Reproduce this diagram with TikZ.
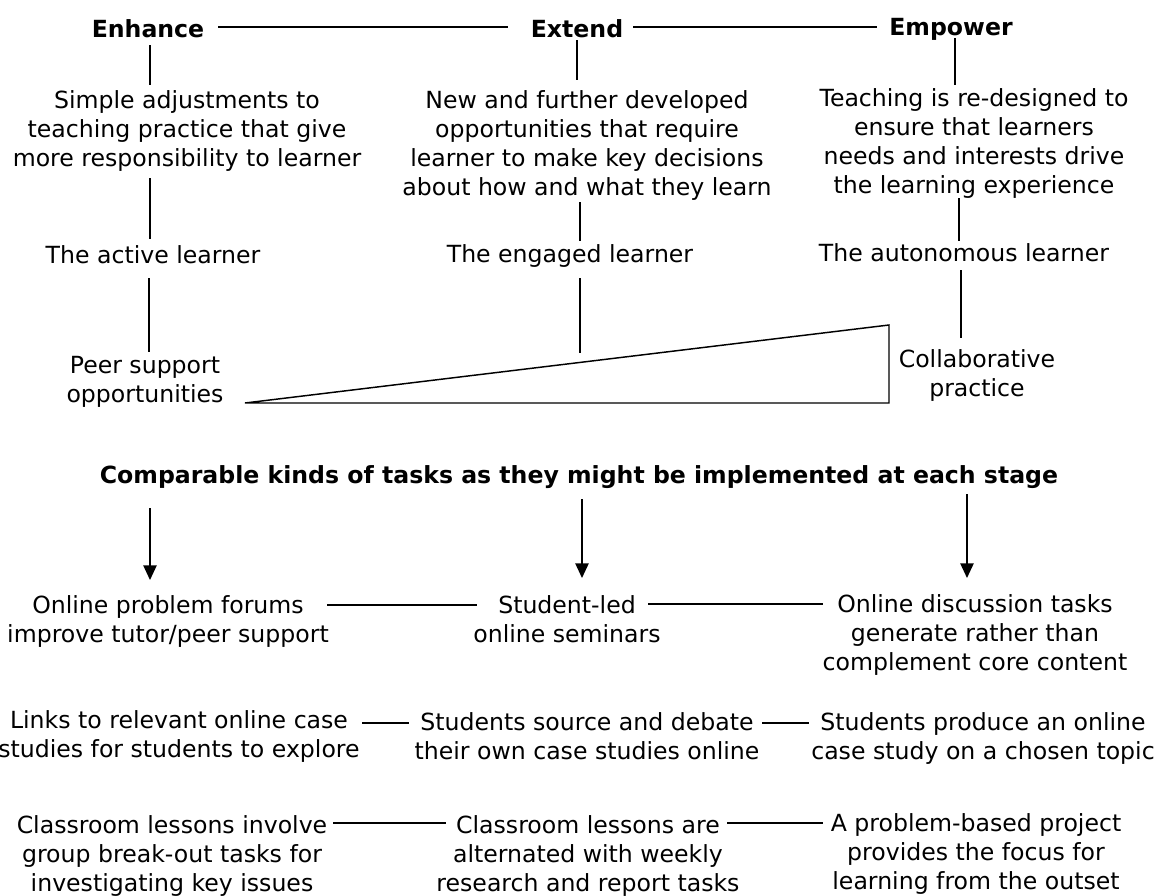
\documentclass[tikz,border=0pt]{standalone}
\usepackage{fontspec}
\setmainfont{DejaVu Sans}
\usetikzlibrary{arrows.meta,calc}
\newcommand\mlines[1]{\begin{tabular}[t]{@{}c@{}}#1\end{tabular}}
\begin{document}
\begin{tikzpicture}[x=0.75pt,y=-0.75pt,
  every node/.style={inner sep=0pt, anchor=base, font=\fontsize{17.7}{21.75}\selectfont},
  head/.style={font=\fontsize{17.7}{21.75}\selectfont\bfseries},
  conn/.style={line width=1.1pt, black},
  arr/.style={conn, -{Triangle[width=10pt,length=11pt]}}]
\useasboundingbox (0,0) rectangle (1165,896);
\fill[white] (0,0) rectangle (1165,896);
% top row
\node[head] (enh) at (148,37) {Enhance};
\node[head] (ext) at (577,37) {Extend};
\node[head] (emp) at (951,35) {Empower};
% descriptions
\node (simple) at (187,108) {\mlines{Simple adjustments to\\teaching practice that give\\more responsibility to learner}};
\node (new) at (587,108) {\mlines{New and further developed\\opportunities that require\\learner to make key decisions\\about how and what they learn}};
\node (teach) at (974,106) {\mlines{Teaching is re-designed to\\ensure that learners\\needs and interests drive\\the learning experience}};
% learners
\node (active) at (153,263) {The active learner};
\node (engaged) at (570,262) {The engaged learner};
\node (auto) at (964,261) {The autonomous learner};
% ends of wedge
\node (peer) at (145,373) {\mlines{Peer support\\opportunities}};
\node (collab) at (977,367) {\mlines{Collaborative\\practice}};
% title
\node[head] (title) at (579,483) {Comparable kinds of tasks as they might be implemented at each stage};
% row 1
\node (forums) at (168,613) {\mlines{Online problem forums\\improve tutor/peer support}};
\node (seminar) at (567,613) {\mlines{Student-led\\online seminars}};
\node (disc) at (975,612) {\mlines{Online discussion tasks\\generate rather than\\complement core content}};
% row 2
\node (links) at (179,728) {\mlines{Links to relevant online case\\studies for students to explore}};
\node (source) at (587,730) {\mlines{Students source and debate\\their own case studies online}};
\node (produce) at (983,730) {\mlines{Students produce an online\\case study on a chosen topic}};
% row 3
\node (class1) at (172,833) {\mlines{Classroom lessons involve\\group break-out tasks for\\investigating key issues}};
\node (class2) at (588,833) {\mlines{Classroom lessons are\\alternated with weekly\\research and report tasks}};
\node (problem) at (976,831) {\mlines{A problem-based project\\provides the focus for\\learning from the outset}};
% wedge
\coordinate (tl) at (245,403);
\coordinate (tr) at (889,325);
\coordinate (br) at (889,403);
\draw[conn, line join=miter] (tl) -- (tr) -- (br) -- cycle;
% top connectors
\draw[conn] ($(enh.base)+(70,-10)$) -- ($(ext.base)+(-69,-10)$);
\draw[conn] ($(ext.base)+(56,-10)$) -- ($(emp.base)+(-74,-8)$);
% vertical connectors
\draw[conn] ($(enh.base)+(2,8)$) -- ($(simple.base)+(-37,-23)$);
\draw[conn] ($(simple.base)+(-37,70)$) -- ($(active.base)+(-3,-24)$);
\draw[conn] ($(active.base)+(-4,15)$) -- ($(peer.base)+(4,-21)$);
\draw[conn] ($(ext.base)+(0,3)$) -- ($(new.base)+(-10,-28)$);
\draw[conn] ($(new.base)+(-7,94)$) -- ($(engaged.base)+(10,-21)$);
\coordinate (e1) at ($(engaged.base)+(10,16)$);
\coordinate (h1) at ($(tl)!0.52!(tr)+(0,-9)$);
\draw[conn] (e1) -- (e1 |- h1);
\draw[conn] ($(emp.base)+(4,3)$) -- ($(teach.base)+(-19,-21)$);
\draw[conn] ($(teach.base)+(-15,92)$) -- ($(auto.base)+(-5,-20)$);
\draw[conn] ($(auto.base)+(-3,9)$) -- ($(collab.base)+(-16,-29)$);
% arrows
\draw[arr] ($(title.base)+(-429,25)$) -- ($(forums.base)+(-18,-33)$);
\draw[arr] ($(title.base)+(3,16)$) -- ($(seminar.base)+(15,-35)$);
\draw[arr] ($(title.base)+(388,11)$) -- ($(disc.base)+(-8,-34)$);
% row connectors
\draw[conn] ($(forums.base)+(159,-8)$) -- ($(seminar.base)+(-90,-8)$);
\draw[conn] ($(seminar.base)+(81,-9)$) -- ($(disc.base)+(-152,-8)$);
\draw[conn] ($(links.base)+(183,-5)$) -- ($(source.base)+(-178,-7)$);
\draw[conn] ($(source.base)+(175,-7)$) -- ($(produce.base)+(-174,-7)$);
\draw[conn] ($(class1.base)+(161,-10)$) -- ($(class2.base)+(-142,-10)$);
\draw[conn] ($(class2.base)+(139,-10)$) -- ($(problem.base)+(-153,-8)$);
\end{tikzpicture}
\end{document}
